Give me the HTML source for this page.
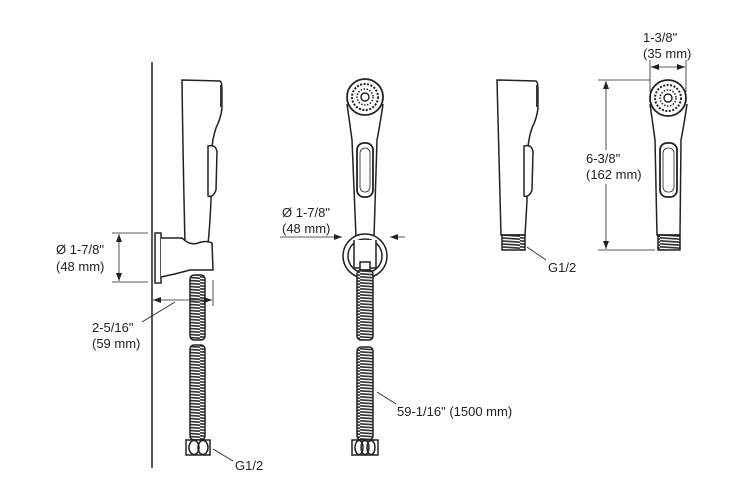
<!DOCTYPE html>
<html><head><meta charset="utf-8"><style>
body{margin:0;background:#fff}
svg{display:block}
text{font-family:"Liberation Sans",sans-serif;font-size:13px;fill:#222}
</style></head><body>
<svg width="750" height="484" viewBox="0 0 750 484" xmlns="http://www.w3.org/2000/svg">
<defs>
<pattern id="coil" width="20" height="3" patternUnits="userSpaceOnUse">
<rect width="20" height="3" fill="#fff"/>
<line x1="0" y1="0.8" x2="20" y2="2.2" stroke="#333" stroke-width="1.6"/>
</pattern>
<marker id="ar" markerWidth="8" markerHeight="6" refX="8" refY="3" orient="auto" markerUnits="userSpaceOnUse">
<path d="M0,0 L8,3 L0,6 z" fill="#222"/>
</marker>
</defs>
<g fill="none" stroke="#222" stroke-width="1.5">
<line x1="152" y1="62" x2="152" y2="468" stroke-width="1.5"/>

<path d="M182,80 L220,81 Q222,82 222,90 L222,108 Q221,118 216,128 Q212,140 212,150 L211,200 Q210,225 208,244 L185,244 Q183,160 182,80 Z" fill="#fff"/>
<rect x="220" y="85" width="2.5" height="22" fill="#333" stroke="none"/>
<path d="M208,146 Q216,144 217,152 L216,190 Q213,198 208,196 Z" fill="#fff"/>
<rect x="155" y="233" width="6" height="50" fill="#fff"/>
<path d="M161,238 L182,238 Q190,246 198,243 Q206,240 212,243 L213,270 L190,270 Q176,274 161,277" fill="#fff"/>
<rect x="190" y="275" width="15" height="65" rx="4" fill="url(#coil)"/>
<rect x="190" y="345" width="15" height="95" rx="4" fill="url(#coil)"/>
<rect x="186" y="440" width="24" height="15" fill="#fff"/>
<ellipse cx="194" cy="447.5" rx="5" ry="7"/>
<ellipse cx="203" cy="447.5" rx="5" ry="7"/>
<line x1="213" y1="449" x2="233" y2="461" stroke-width="0.8"/>

<line x1="112" y1="233" x2="148" y2="233" stroke-width="0.8"/>
<line x1="112" y1="282" x2="148" y2="282" stroke-width="0.8"/>
<line x1="119" y1="258" x2="119" y2="234" stroke-width="0.8" marker-end="url(#ar)"/>
<line x1="119" y1="258" x2="119" y2="281" stroke-width="0.8" marker-end="url(#ar)"/>
<line x1="213" y1="280" x2="213" y2="306" stroke-width="0.8"/>
<line x1="183" y1="300" x2="153" y2="300" stroke-width="0.8" marker-end="url(#ar)"/>
<line x1="183" y1="300" x2="212" y2="300" stroke-width="0.8" marker-end="url(#ar)"/>
<line x1="142" y1="322" x2="175" y2="302" stroke-width="0.8"/>

<path d="M347,104 Q350,125 352,140 L356,237 L374,237 L377,140 Q380,125 383,104" fill="#fff"/>
<circle cx="365" cy="97" r="18" fill="#fff" stroke-width="1.8"/>
<circle cx="365" cy="97" r="13" stroke-dasharray="2 1.5" stroke-width="2"/>
<circle cx="365" cy="97" r="8" stroke-dasharray="1.5 1.5" stroke-width="1.5"/>
<circle cx="365" cy="97" r="4" stroke-width="1.4"/>
<rect x="357" y="143" width="16" height="54" rx="7" fill="#fff" stroke-width="1.8"/>
<rect x="360" y="148" width="10" height="44" rx="5" stroke-width="0.8"/>
<circle cx="365" cy="256" r="22" fill="#fff"/>
<circle cx="365" cy="256" r="17"/>
<path d="M354,240 L354,268 L376,268 L376,240" fill="#fff"/>
<rect x="360" y="262" width="10" height="8" fill="#fff"/>
<rect x="357" y="270" width="16" height="70" rx="4" fill="url(#coil)"/>
<rect x="357" y="347" width="16" height="93" rx="4" fill="url(#coil)"/>
<rect x="352" y="440" width="26" height="15" fill="#fff"/>
<ellipse cx="359" cy="447.5" rx="4" ry="7"/>
<ellipse cx="365" cy="447.5" rx="4" ry="7"/>
<ellipse cx="371" cy="447.5" rx="4" ry="7"/>
<line x1="280" y1="237" x2="342" y2="237" stroke-width="0.8" marker-end="url(#ar)"/>
<line x1="405" y1="237" x2="390" y2="237" stroke-width="0.8" marker-end="url(#ar)"/>
<line x1="377" y1="392" x2="396" y2="404" stroke-width="0.8"/>

<path d="M497,80 L536,81 Q538,82 538,90 L538,108 Q537,118 532,128 Q528,140 528,150 L527,200 Q526,220 525,235 L501,235 Q499,160 497,80 Z" fill="#fff"/>
<rect x="536" y="85" width="2.5" height="22" fill="#333" stroke="none"/>
<path d="M524,146 Q532,144 533,152 L532,190 Q529,198 524,196 Z" fill="#fff"/>
<rect x="502" y="235" width="23" height="15" fill="url(#coil)"/>
<line x1="527" y1="247" x2="546" y2="260" stroke-width="0.8"/>

<path d="M650,104 Q653,125 655,140 L657,235 L680,235 L681,140 Q684,125 687,104" fill="#fff"/>
<circle cx="668" cy="98" r="18" fill="#fff" stroke-width="1.8"/>
<circle cx="668" cy="98" r="13" stroke-dasharray="2 1.5" stroke-width="2"/>
<circle cx="668" cy="98" r="8" stroke-dasharray="1.5 1.5" stroke-width="1.5"/>
<circle cx="668" cy="98" r="4" stroke-width="1.4"/>
<rect x="660" y="143" width="17" height="54" rx="7" fill="#fff" stroke-width="1.8"/>
<rect x="663" y="148" width="11" height="44" rx="5" stroke-width="0.8"/>
<rect x="658" y="235" width="22" height="15" fill="url(#coil)"/>
<line x1="650" y1="60" x2="650" y2="92" stroke-width="0.8"/>
<line x1="686" y1="60" x2="686" y2="92" stroke-width="0.8"/>
<line x1="668" y1="67" x2="651" y2="67" stroke-width="0.8" marker-end="url(#ar)"/>
<line x1="668" y1="67" x2="685" y2="67" stroke-width="0.8" marker-end="url(#ar)"/>
<line x1="598" y1="80" x2="650" y2="80" stroke-width="0.8"/>
<line x1="598" y1="250" x2="655" y2="250" stroke-width="0.8"/>
<line x1="606" y1="165" x2="606" y2="81" stroke-width="0.8" marker-end="url(#ar)"/>
<line x1="606" y1="165" x2="606" y2="249" stroke-width="0.8" marker-end="url(#ar)"/>
</g>
<rect x="583" y="150" width="60" height="34" fill="#fff"/>
<text x="56" y="254">Ø 1-7/8"</text>
<text x="56" y="271">(48 mm)</text>
<text x="92" y="332">2-5/16"</text>
<text x="92" y="348">(59 mm)</text>
<text x="235" y="470">G1/2</text>
<text x="282" y="217">Ø 1-7/8"</text>
<text x="282" y="233">(48 mm)</text>
<text x="397" y="416">59-1/16" (1500 mm)</text>
<text x="548" y="272">G1/2</text>
<text x="643" y="42">1-3/8"</text>
<text x="643" y="58">(35 mm)</text>
<text x="586" y="163">6-3/8"</text>
<text x="586" y="179">(162 mm)</text>
</svg>
</body></html>
